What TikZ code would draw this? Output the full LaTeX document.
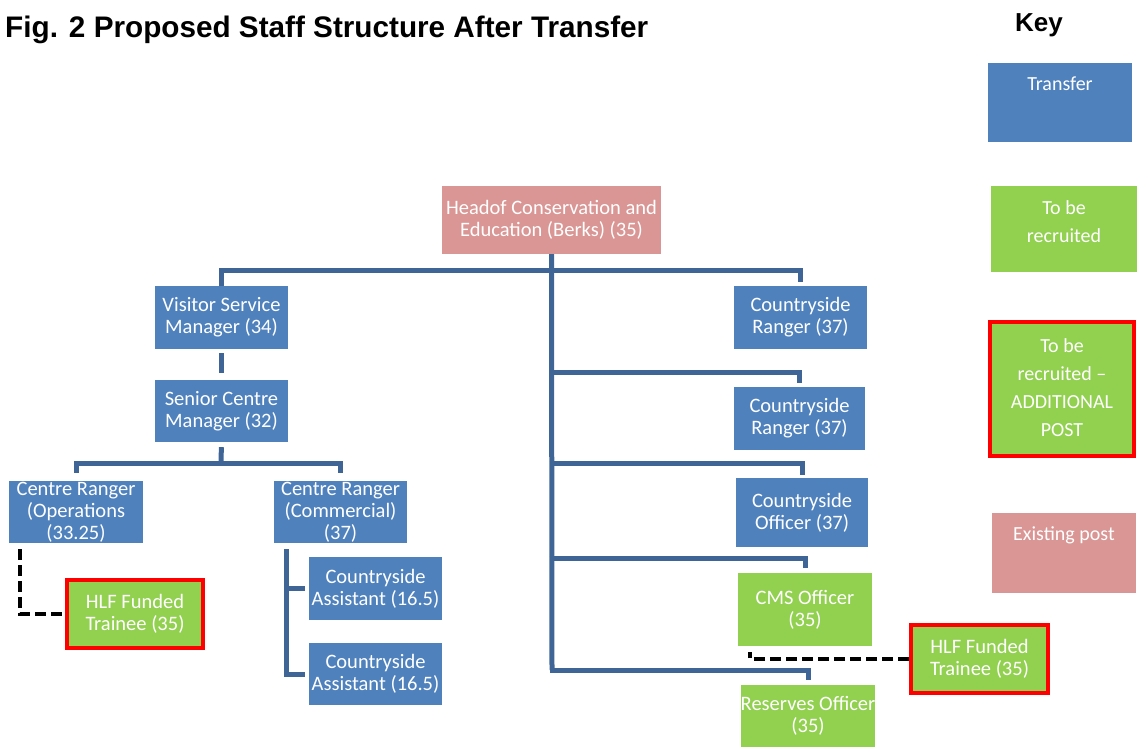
\documentclass[tikz,border=0pt]{standalone}
\usepackage{fontspec}
\newfontfamily\carl{Carlito}
\newfontfamily\arl{Liberation Sans}
\definecolor{tBlue}{HTML}{4F81BD}
\definecolor{tGreen}{HTML}{92D050}
\definecolor{tPink}{HTML}{D99694}
\definecolor{tRed}{HTML}{FF0000}
\definecolor{tLine}{HTML}{3F6597}
\tikzset{
  box/.style={rectangle, inner sep=0pt, align=center, text=white, font=\carl\fontsize{20.5}{22}\selectfont},
  bluebox/.style={box, fill=tBlue},
  greenbox/.style={box, fill=tGreen},
  pinkbox/.style={box, fill=tPink},
  redbox/.style={box, fill=tGreen, draw=tRed, line width=4pt},
  keytext/.style={text=white, align=center, font=\carl\fontsize{20}{28}\selectfont, inner sep=0pt},
  conn/.style={draw=tLine, line width=5pt},
  dashline/.style={draw=black, line width=4pt, dash pattern=on 11pt off 5pt},
  sz/.style 2 args={minimum width=#1pt, minimum height=#2pt}
}
\begin{document}
\begin{tikzpicture}[x=1pt,y=-1pt]
\useasboundingbox (0,0) rectangle (1138,747);
% title and key heading
\node[anchor=base west, inner sep=0pt, font=\arl\bfseries\fontsize{29.7}{34}\selectfont] (title) at (5,37) {Fig. 2 Proposed Staff Structure After Transfer};
\node[anchor=base west, inner sep=0pt, font=\arl\bfseries\fontsize{26}{30}\selectfont] (key) at (1015,31) {Key};
% key boxes
\node[bluebox, sz={144}{79}, label={[keytext, anchor=north, yshift=-14pt]north:Transfer}] (ktransfer) at (1060,102.5) {};
\node[greenbox, sz={146}{86}] (krecruit) at (1064,229) {};
\node[keytext] (krecruittxt) at (1064,222) {To be\\recruited};
\node[redbox, sz={144}{134}] (kadd) at (1062,389) {};
\node[keytext] (kaddtxt) at (1062,388) {To be\\recruited –\\ADDITIONAL\\POST};
\node[pinkbox, sz={144}{80}, label={[keytext, anchor=north, yshift=-14pt]north:Existing post}] (kexist) at (1064,553) {};
% org boxes
\node[pinkbox, sz={219}{68}] (head) at (551.5,220) {Headof Conservation and\\Education (Berks) (35)};
\node[bluebox, sz={133}{63}] (vsm) at (221.5,317.5) {Visitor Service\\Manager (34)};
\node[bluebox, sz={133}{62}] (scm) at (221.5,411) {Senior Centre\\Manager (32)};
\node[bluebox, sz={134}{62}] (crop) at (76,512) {Centre Ranger\\(Operations\\(33.25)};
\node[bluebox, sz={133}{62}] (crc) at (340.5,512) {Centre Ranger\\(Commercial)\\(37)};
\node[bluebox, sz={133}{63}] (ca1) at (375.5,588.5) {Countryside\\Assistant (16.5)};
\node[bluebox, sz={133}{62}] (ca2) at (375.5,674) {Countryside\\Assistant (16.5)};
\node[redbox, sz={136}{68}] (hlf1) at (135,614) {HLF Funded\\Trainee (35)};
\node[bluebox, sz={133}{63}] (cr1) at (800.5,317.5) {Countryside\\Ranger (37)};
\node[bluebox, sz={131}{63}] (cr2) at (799.5,418.5) {Countryside\\Ranger (37)};
\node[bluebox, sz={132}{69}] (co) at (802,512.5) {Countryside\\Officer (37)};
\node[greenbox, sz={134}{73}] (cms) at (805,609.5) {CMS Officer\\(35)};
\node[redbox, sz={137}{68}] (hlf2) at (979.5,659) {HLF Funded\\Trainee (35)};
\node[greenbox, sz={134}{62}] (ro) at (808,716) {Reserves Officer\\(35)};
% junction coordinates
\coordinate (bar) at (552,270);
\coordinate (j2) at (552,372);
\coordinate (j3) at (552,463);
\coordinate (j4) at (552,558);
\coordinate (j5) at (552,670);
\coordinate (j6) at (221,463);
\coordinate (k1) at (286,549);
\coordinate (d1) at (20,549);
\coordinate (d2) at (750,652);
% connectors
\draw[conn] (head.south) -- (j5);
\draw[conn, shorten <=-2.5pt, shorten >=4pt] (bar) -| (cr1.north);
\draw[conn, shorten >=-2.5pt] (vsm.north) |- (bar);
\draw[conn, shorten <=-2.5pt, shorten >=4pt] (j2) -| (cr2.north);
\draw[conn, shorten <=-2.5pt, shorten >=3pt] (j3) -| (co.north);
\draw[conn, shorten <=-2.5pt, shorten >=5pt] (j4) -| (cms.north);
\draw[conn, shorten <=-2.5pt, shorten >=5pt] (j5) -| (ro.north);
\draw[conn, shorten <=4pt, shorten >=7pt] (vsm.south) -- (scm.north);
\draw[conn, shorten <=5pt] (scm.south) -- (j6);
\draw[conn, shorten <=8pt] (crop.north) |- (j6);
\draw[conn, shorten >=8pt] (j6) -| (crc.north);
\draw[conn, shorten >=4pt] (k1) |- (ca2.west);
\draw[conn, shorten <=4pt] (ca1.west) -- (ca1.west -| k1);
\draw[dashline] (d1) |- (hlf1.west);
\draw[dashline] (hlf2.west) -| (d2);
\end{tikzpicture}
\end{document}
